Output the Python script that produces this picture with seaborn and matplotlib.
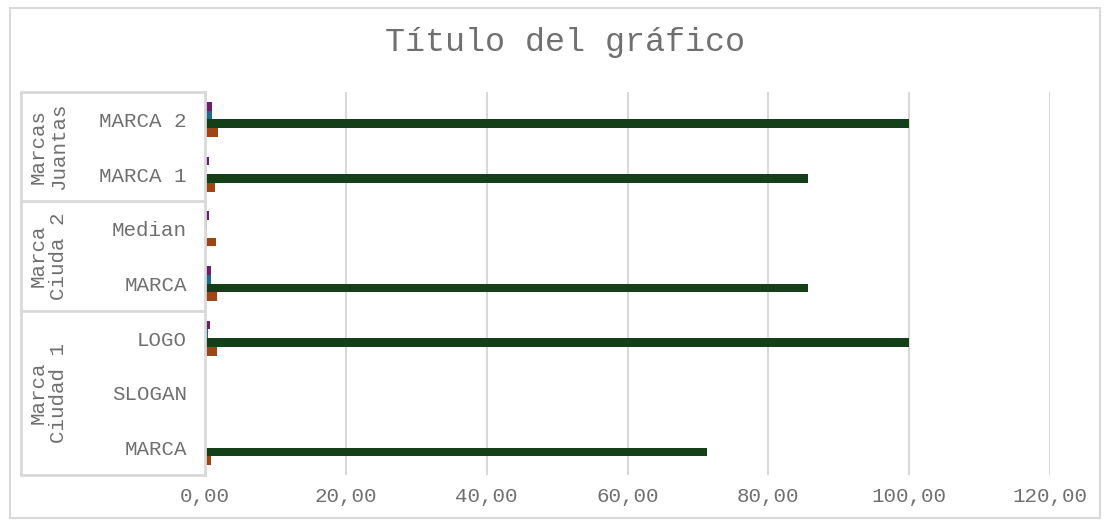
import pandas as pd
import numpy as np
import matplotlib.pyplot as plt
import seaborn as sns
from matplotlib.lines import Line2D
from matplotlib.patches import Rectangle
from matplotlib.ticker import FuncFormatter

# categories, top to bottom
cat_keys = ["MJ_MARCA2", "MJ_MARCA1", "C2_Median", "C2_MARCA", "C1_LOGO", "C1_SLOGAN", "C1_MARCA"]
cat_labels = ["MARCA 2", "MARCA 1", "Median", "MARCA", "LOGO", "SLOGAN", "MARCA"]
groups = ["Marcas\nJuantas", "Marca\nCiuda 2", "Marca\nCiudad 1"]
group_sizes = [2, 2, 3]

# series values
serie1 = [1.9, 1.4, 1.55, 1.75, 1.75, 0, 0.9]      # orange
serie2 = [100, 85.7, 0, 85.7, 100, 0, 71.3]        # green
serie3 = [1.0, 0.2, 0.35, 0.85, 0.45, 0, 0]        # teal
serie4 = [1.0, 0.55, 0.55, 0.9, 0.7, 0, 0]         # purple

xticks = [0, 20, 40, 60, 80, 100, 120]

rows = []
for name, vals in [("S1", serie1), ("S2", serie2), ("S3", serie3), ("S4", serie4)]:
    for k, v in zip(cat_keys, vals):
        rows.append({"cat": k, "serie": name, "valor": v})
df = pd.DataFrame(rows)

colors = {"S1": "#9E4517", "S2": "#143F19", "S3": "#1D6A8A", "S4": "#6A1F6A"}

sns.set_style("white")
plt.rcParams['font.family'] = ['Liberation Mono', 'DejaVu Sans']

W, H = 1107, 523
fig = plt.figure(figsize=(W / 100, H / 100), dpi=100)
ax = fig.add_axes([205 / W, 1 - 475 / H, (1050 - 205) / W, (475 - 92) / H])

sns.barplot(data=df, x="valor", y="cat", hue="serie", order=cat_keys,
            hue_order=["S4", "S3", "S2", "S1"], palette=colors, width=0.64,
            orient="h", legend=False, ax=ax, saturation=1, linewidth=0)

gray = "#707070"
grid = "#D9D9D9"
ax.set_xlim(0, 120)
ax.set_xticks(xticks)
ax.xaxis.set_major_formatter(FuncFormatter(lambda v, p: f"{v:.2f}".replace(".", ",")))
ax.grid(axis="x", color=grid, linewidth=1.5)
ax.set_axisbelow(True)
ax.set_yticks(range(len(cat_keys)))
ax.set_yticklabels(cat_labels)
ax.set_ylim(len(cat_keys) - 0.5, -0.5)
ax.set_xlabel("")
ax.set_ylabel("")
ax.tick_params(axis="x", length=0, pad=9, labelsize=15, labelcolor=gray)
ax.tick_params(axis="y", length=0, pad=13, labelsize=15, labelcolor=gray)
for s in ["top", "right", "bottom"]:
    ax.spines[s].set_visible(False)
ax.spines["left"].set_color(grid)
ax.spines["left"].set_linewidth(2)

# multi-level category axis
trans = ax.get_yaxis_transform()
x_left = -(205 - 21) / (1050 - 205)
bounds = [-0.5]
for n in group_sizes:
    bounds.append(bounds[-1] + n)
for b in bounds:
    ax.add_artist(Line2D([x_left, 0], [b, b], transform=trans, color=grid, lw=2, clip_on=False))
ax.add_artist(Line2D([x_left, x_left], [bounds[0], bounds[-1]], transform=trans, color=grid, lw=2, clip_on=False))
x_grp = -(205 - 48) / (1050 - 205)
for g, a, b in zip(groups, bounds[:-1], bounds[1:]):
    ax.text(x_grp, (a + b) / 2, g, transform=trans, rotation=90, ha="center", va="center",
            fontsize=15, color=gray, linespacing=1.1, multialignment="center")

fig.text(565 / W, 1 - 43 / H, "Título del gráfico", ha="center", va="center", fontsize=24, color=gray)
fig.add_artist(Rectangle((10 / W, 1 - 518 / H), (1100 - 10) / W, (518 - 8) / H, transform=fig.transFigure,
                         fill=False, edgecolor=grid, lw=1.5))

fig.savefig("out.png", dpi=100)
